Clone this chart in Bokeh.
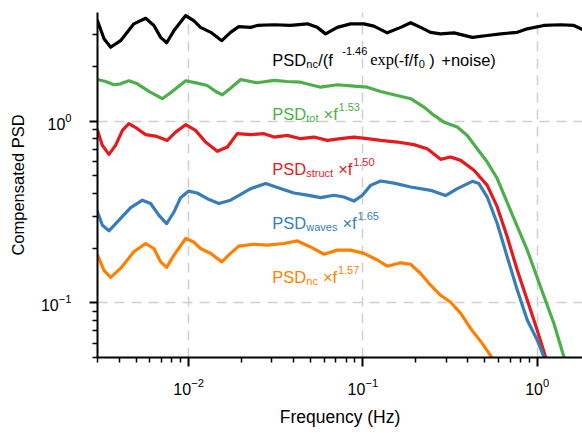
from bokeh.plotting import figure
from bokeh.models import Label, Range1d, FixedTicker, LogTickFormatter
from bokeh.embed import file_html
from bokeh.resources import INLINE

# ---------------- data ----------------
freq_black = [0.003, 0.00327, 0.00357, 0.00407, 0.00485, 0.00567, 0.00632, 0.00691, 0.00748, 0.00824,
              0.00962, 0.0107, 0.0117, 0.0134, 0.0155, 0.0174, 0.0194, 0.0227, 0.0248, 0.0309,
              0.0385, 0.048, 0.0547, 0.0611, 0.0713, 0.085, 0.1014, 0.1156, 0.138, 0.1646,
              0.188, 0.2145, 0.2446, 0.279, 0.333, 0.425, 0.517, 0.617, 0.769, 0.877,
              1.092, 1.362, 1.624, 1.82]
psd_black = [3.57, 2.84, 2.55, 2.77, 3.43, 3.68, 3.36, 2.89, 2.70, 3.15,
             3.81, 3.57, 3.28, 3.08, 2.77, 3.08, 3.31, 3.28, 3.36, 3.39,
             3.36, 3.43, 3.28, 3.02, 3.28, 3.43, 3.43, 3.33, 3.06, 3.28,
             3.48, 3.28, 3.08, 3.02, 3.06, 2.89, 2.96, 3.02, 3.08, 3.22,
             3.36, 3.39, 3.36, 3.19]

freq_tot = [0.003, 0.00334, 0.00373, 0.00407, 0.00454, 0.00508, 0.00592, 0.00706, 0.00788, 0.00962,
            0.0112, 0.0128, 0.0143, 0.0156, 0.0174, 0.0199, 0.0248, 0.0309, 0.0368, 0.0439,
            0.0572, 0.0713, 0.0888, 0.106, 0.1264, 0.1508, 0.188, 0.224, 0.256, 0.292,
            0.348, 0.397, 0.453, 0.517, 0.590, 0.703, 0.877, 1.045, 1.246, 1.423, 1.5]
psd_tot = [1.694, 1.652, 1.585, 1.604, 1.667, 1.604, 1.456, 1.328, 1.432, 1.667,
           1.617, 1.571, 1.456, 1.396, 1.518, 1.694, 1.625, 1.674, 1.652, 1.637,
           1.537, 1.585, 1.557, 1.537, 1.456, 1.396, 1.328, 1.194, 1.075, 0.987,
           0.927, 0.834, 0.705, 0.595, 0.483, 0.323, 0.195, 0.1225, 0.0771, 0.0505, 0.044]

freq_struct = [0.003, 0.0032, 0.00349, 0.00381, 0.00417, 0.00454, 0.00508, 0.00567, 0.00647, 0.00755,
               0.00842, 0.00962, 0.01096, 0.0125, 0.0146, 0.0167, 0.019, 0.0227, 0.0271, 0.0309,
               0.0368, 0.0439, 0.0524, 0.0625, 0.0745, 0.0888, 0.106, 0.1264, 0.1577, 0.196,
               0.234, 0.279, 0.318, 0.364, 0.434, 0.517, 0.590, 0.673, 0.769, 0.877,
               1.0, 1.116, 1.2]
psd_struct = [0.889, 0.735, 0.656, 0.735, 0.889, 0.968, 0.908, 0.842, 0.827, 0.783,
              0.870, 0.955, 0.889, 0.767, 0.682, 0.720, 0.853, 0.842, 0.853, 0.817,
              0.834, 0.800, 0.817, 0.783, 0.800, 0.817, 0.800, 0.783, 0.767, 0.742,
              0.705, 0.616, 0.634, 0.608, 0.536, 0.443, 0.337, 0.231, 0.151, 0.1035,
              0.0708, 0.0505, 0.043]

freq_waves = [0.003, 0.0032, 0.00349, 0.0039, 0.00465, 0.00543, 0.00605, 0.00676, 0.00748, 0.00824,
              0.0090, 0.01, 0.0112, 0.0131, 0.0149, 0.0174, 0.0199, 0.0227, 0.0277, 0.0323,
              0.0402, 0.048, 0.0572, 0.0682, 0.0778, 0.0888, 0.0993, 0.1107, 0.1264, 0.1508,
              0.188, 0.2446, 0.298, 0.348, 0.425, 0.463, 0.517, 0.590, 0.673, 0.769,
              0.877, 1.0, 1.092, 1.17]
psd_waves = [0.316, 0.267, 0.249, 0.279, 0.334, 0.367, 0.352, 0.303, 0.273, 0.316,
             0.379, 0.412, 0.402, 0.370, 0.352, 0.367, 0.395, 0.425, 0.453, 0.431,
             0.402, 0.391, 0.379, 0.391, 0.382, 0.363, 0.391, 0.443, 0.468, 0.456,
             0.434, 0.416, 0.389, 0.425, 0.466, 0.453, 0.382, 0.273, 0.179, 0.1175,
             0.0804, 0.0624, 0.0505, 0.043]

freq_nc = [0.003, 0.00327, 0.00357, 0.00407, 0.00485, 0.00567, 0.00632, 0.00691, 0.00748, 0.00824,
           0.00962, 0.0107, 0.0117, 0.0134, 0.0155, 0.0174, 0.0194, 0.0237, 0.0283, 0.0352,
           0.0421, 0.0501, 0.0598, 0.0713, 0.085, 0.1014, 0.121, 0.138, 0.1646, 0.188,
           0.2145, 0.2446, 0.279, 0.318, 0.364, 0.415, 0.484, 0.545, 0.58]
psd_nc = [0.183, 0.151, 0.138, 0.1546, 0.191, 0.212, 0.199, 0.168, 0.1566, 0.183,
          0.226, 0.216, 0.199, 0.187, 0.168, 0.187, 0.205, 0.210, 0.2075, 0.212,
          0.219, 0.203, 0.185, 0.195, 0.195, 0.187, 0.172, 0.159, 0.166, 0.163,
          0.145, 0.125, 0.110, 0.101, 0.0874, 0.0723, 0.0598, 0.0505, 0.045]

series_colors = ["#000000", "#4daf4a", "#e41a1c", "#377eb8", "#ff7f00"]

# label texts: (subscript, exponent)
label_subs = ["tot", "struct", "waves", "nc"]
label_exps = ["1.53", "1.50", "1.65", "1.57"]

# tick values
x_major = [0.01, 0.1, 1.0]
x_minor = [0.003, 0.004, 0.005, 0.006, 0.007, 0.008, 0.009,
           0.02, 0.03, 0.04, 0.05, 0.06, 0.07, 0.08, 0.09,
           0.2, 0.3, 0.4, 0.5, 0.6, 0.7, 0.8, 0.9]
y_major = [0.1, 1.0]
y_minor = [0.05, 0.06, 0.07, 0.08, 0.09,
           0.2, 0.3, 0.4, 0.5, 0.6, 0.7, 0.8, 0.9,
           2.0, 3.0, 4.0]

# ---------------- figure ----------------
p = figure(width=582, height=433, x_axis_type="log", y_axis_type="log",
           x_range=Range1d(0.003, 1.82), y_range=Range1d(0.05, 3.96),
           output_backend="svg", toolbar_location=None,
           min_border_left=97, min_border_right=0, min_border_top=12, min_border_bottom=76)
p.outline_line_color = None
p.background_fill_color = "white"
p.border_fill_color = "white"

p.xaxis.ticker = FixedTicker(ticks=x_major, minor_ticks=x_minor)
p.yaxis.ticker = FixedTicker(ticks=y_major, minor_ticks=y_minor)
p.xaxis.formatter = LogTickFormatter()
p.yaxis.formatter = LogTickFormatter()

for ax in (p.xaxis[0], p.yaxis[0]):
    ax.axis_line_width = 2
    ax.axis_line_color = "black"
    ax.major_tick_line_width = 2
    ax.minor_tick_line_width = 1.5
    ax.major_tick_line_color = "black"
    ax.minor_tick_line_color = "black"
    ax.major_tick_in = 0
    ax.minor_tick_in = 0
    ax.major_label_text_font = "Liberation Sans"
    ax.major_label_text_font_size = "16px"
    ax.major_label_text_color = "black"
    ax.axis_label_text_font = "Liberation Sans"
    ax.axis_label_text_font_style = "normal"
    ax.axis_label_text_color = "black"

p.xaxis.axis_label = "Frequency (Hz)"
p.yaxis.axis_label = "Compensated PSD"
p.xaxis.axis_label_text_font_size = "17.5px"
p.yaxis.axis_label_text_font_size = "16.5px"
p.xaxis.major_tick_out = 9
p.xaxis.minor_tick_out = 5
p.yaxis.major_tick_out = 8
p.yaxis.minor_tick_out = 5
p.xaxis.major_label_standoff = 11
p.yaxis.major_label_standoff = 18
p.xaxis.axis_label_standoff = 9
p.yaxis.axis_label_standoff = 11

for g in (p.xgrid, p.ygrid):
    g.grid_line_color = "#cfcfcf"
    g.grid_line_width = 1.5
    g.grid_line_dash = "10 7"

# ---------------- curves ----------------
curves = [(freq_black, psd_black), (freq_tot, psd_tot), (freq_struct, psd_struct),
          (freq_waves, psd_waves), (freq_nc, psd_nc)]
for (fx, fy), c in zip(curves, series_colors):
    p.line(fx, fy, line_color=c, line_width=3.2, line_join="round", line_cap="round")

# ---------------- annotations ----------------
LABEL_X = 0.0302
LABEL_Y = [2.02, 1.015, 0.503, 0.2563, 0.1279]
BASE_DY = 6
MAIN = 16.5
SMALL = 11
W = {'t': .278, 'o': .556, 's': .5, 'r': .333, 'u': .556, 'c': .5, 'w': .722, 'a': .556,
     'v': .5, 'e': .556, 'n': .556}


def seg(text, y, dx, dy, size, color, font="Liberation Sans"):
    p.add_layout(Label(x=LABEL_X, y=y, x_offset=dx, y_offset=dy + BASE_DY, text=text,
                       text_font=font, text_font_size=f"{size}px", text_color=color,
                       text_baseline="alphabetic", text_align="left"))


# black label: PSD_nc/(f^-1.46 exp(-f/f_0) +noise)
yb = LABEL_Y[0]
seg("PSD", yb, 0, 0, MAIN, "black")
seg("nc", yb, 34, -4, SMALL, "black")
seg("/(f", yb, 46, 0, MAIN, "black")
seg("-1.46", yb, 70, 9, SMALL, "black")
seg("exp(", yb, 98, 0, MAIN, "black", font="Liberation Serif")
seg("-f/f", yb, 126.5, 0, MAIN, "black")
seg("0", yb, 146.5, -4, SMALL, "black")
seg(")", yb, 157, 0, MAIN, "black")
seg("+noise)", yb, 169, 0, MAIN, "black")

for sub, ex, y, c in zip(label_subs, label_exps, LABEL_Y[1:], series_colors[1:]):
    sw = sum(W[ch] for ch in sub) * SMALL
    seg("PSD", y, 0, 0, MAIN, c)
    seg(sub, y, 34, -4, SMALL, c)
    xf = 34 + sw + 5
    seg("\u00d7f", y, xf, 0, MAIN, c)
    seg(ex, y, xf + 15, 7, SMALL, c)

open("out.html", "w").write(file_html(p, INLINE))
